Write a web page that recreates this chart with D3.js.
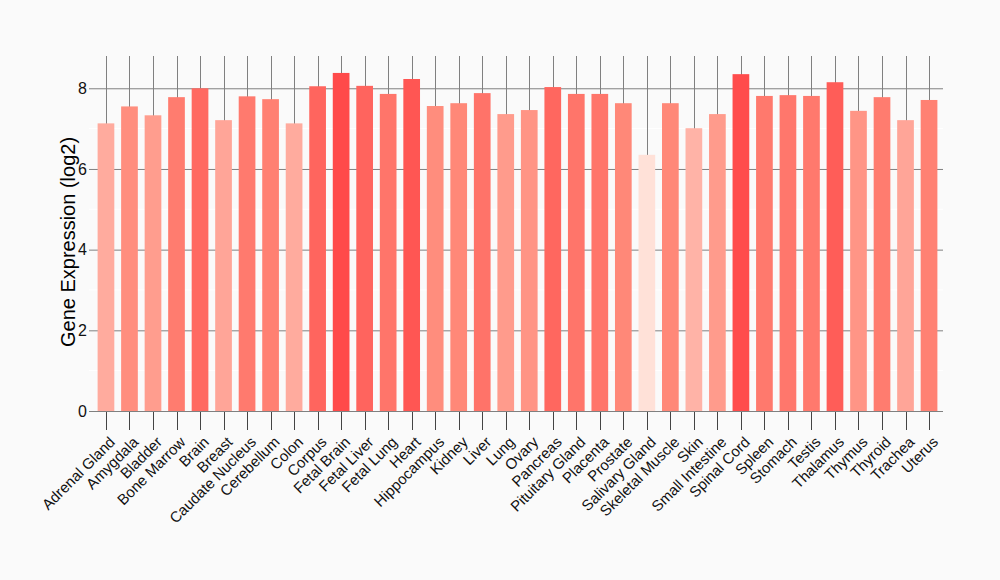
<!DOCTYPE html>
<html>
<head>
<meta charset="utf-8">
<script src="https://cdn.jsdelivr.net/npm/d3@7"></script>
<style>
  body { margin: 0; background: #fafafa; }
  svg { display: block; font-family: "Liberation Sans", Arial, sans-serif; }
</style>
</head>
<body>
<svg width="1000" height="580"></svg>
<script>
const tissues = ["Adrenal Gland", "Amygdala", "Bladder", "Bone Marrow", "Brain", "Breast",
  "Caudate Nucleus", "Cerebellum", "Colon", "Corpus", "Fetal Brain", "Fetal Liver",
  "Fetal Lung", "Heart", "Hippocampus", "Kidney", "Liver", "Lung", "Ovary", "Pancreas",
  "Pituitary Gland", "Placenta", "Prostate", "Salivary Gland", "Skeletal Muscle", "Skin",
  "Small Intestine", "Spinal Cord", "Spleen", "Stomach", "Testis", "Thalamus", "Thymus",
  "Thyroid", "Trachea", "Uterus"];
const expression = [7.13, 7.55, 7.33, 7.78, 8.00, 7.21,
  7.80, 7.73, 7.13, 8.05, 8.38, 8.06,
  7.86, 8.23, 7.56, 7.63, 7.88, 7.36, 7.46, 8.03,
  7.86, 7.86, 7.63, 6.35, 7.63, 7.01,
  7.36, 8.35, 7.81, 7.83, 7.81, 8.15, 7.44,
  7.78, 7.21, 7.71];
const majorTicks = [0, 2, 4, 6, 8];
const minorTicks = [1, 3, 5, 7];

const svg = d3.select("svg");

const x = d3.scaleBand()
  .domain(tissues)
  .range([94.2, 940.8])
  .paddingInner(0.29)
  .paddingOuter(0.145);

const y = d3.scaleLinear()
  .domain([0, 8.8])
  .range([411, 56]);

const color = d3.scaleLinear()
  .domain([d3.min(expression), 7.63, d3.max(expression)])
  .range(["#ffe1d8", "#ff8878", "#ff4a4a"]);

const cx = d => Math.round(x(d) + x.bandwidth() / 2) + 0.5;

// minor grid (white)
svg.append("g").selectAll("line")
  .data(minorTicks)
  .join("line")
  .attr("x1", 89).attr("x2", 943)
  .attr("y1", d => y(d)).attr("y2", d => y(d))
  .attr("stroke", "#ffffff").attr("stroke-width", 1);

// major horizontal grid
svg.append("g").selectAll("line")
  .data(majorTicks)
  .join("line")
  .attr("x1", 89).attr("x2", 943)
  .attr("y1", d => y(d) + 0.5).attr("y2", d => y(d) + 0.5)
  .attr("stroke", "#808080").attr("stroke-width", 1);

// vertical grid at each category
svg.append("g").selectAll("line")
  .data(tissues)
  .join("line")
  .attr("x1", cx).attr("x2", cx)
  .attr("y1", y(8.8)).attr("y2", y(0))
  .attr("stroke", "#808080").attr("stroke-width", 1);

// bars
svg.append("g").selectAll("rect")
  .data(expression)
  .join("rect")
  .attr("x", (d, i) => x(tissues[i]))
  .attr("width", x.bandwidth())
  .attr("y", d => y(d))
  .attr("height", d => y(0) - y(d))
  .attr("fill", d => color(d));

// y axis labels
svg.append("g").selectAll("text")
  .data(majorTicks)
  .join("text")
  .attr("x", 87)
  .attr("y", d => y(d))
  .attr("dy", "0.36em")
  .attr("text-anchor", "end")
  .attr("font-size", 16)
  .attr("fill", "#111")
  .text(d => d);

// x ticks + labels
const xAxis = svg.append("g");
xAxis.selectAll("line")
  .data(tissues)
  .join("line")
  .attr("x1", cx).attr("x2", cx)
  .attr("y1", y(0) + 1).attr("y2", 430)
  .attr("stroke", "#444").attr("stroke-width", 1);

xAxis.selectAll("text")
  .data(tissues)
  .join("text")
  .attr("transform", d => `translate(${x(d) + x.bandwidth() / 2 + 10},${443}) rotate(-45)`)
  .attr("text-anchor", "end")
  .attr("font-size", 15)
  .attr("fill", "#111")
  .text(d => d);

// y title
svg.append("text")
  .attr("transform", `translate(75,242) rotate(-90)`)
  .attr("text-anchor", "middle")
  .attr("font-size", 20)
  .attr("fill", "#000")
  .text("Gene Expression (log2)");
</script>
</body>
</html>
